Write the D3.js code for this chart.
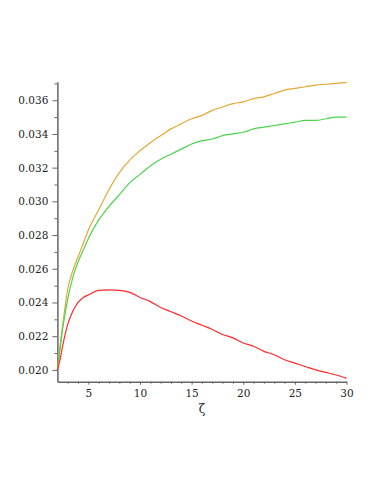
<!DOCTYPE html>
<html>
<head>
  <meta charset="utf-8">
  <script src="https://d3js.org/d3.v7.min.js"></script>
  <style>
    body { margin: 0; background: #fff; }
    .axis text { font-family: "DejaVu Serif", serif; font-size: 10.5px; fill: #222; }
    .axis path, .axis line { stroke: #666; }
  </style>
</head>
<body>
  <svg id="chart" width="382" height="494"></svg>
  <script>
    const zeta = [2, 2.25, 2.5, 3, 3.5, 4, 4.5, 5, 6, 7, 8, 9, 10, 11, 12, 13, 14, 15, 16, 17, 18, 19, 20, 21, 22, 23, 24, 25, 26, 27, 28, 29, 30];
    const orangeVals = [0.0200, 0.0214, 0.0226, 0.0248, 0.0259, 0.0267, 0.0275, 0.0283, 0.0295, 0.0307, 0.0317, 0.03245, 0.0330, 0.03348, 0.0339, 0.0343, 0.0346, 0.0349, 0.0351, 0.0354, 0.0356, 0.0358, 0.0359, 0.0361, 0.0362, 0.0364, 0.0366, 0.0367, 0.0368, 0.0369, 0.03695, 0.0370, 0.03705];
    const greenVals = [0.0200, 0.0212, 0.0224, 0.0242, 0.0255, 0.0264, 0.0271, 0.0278, 0.0289, 0.0297, 0.0304, 0.0311, 0.0316, 0.0321, 0.0325, 0.0328, 0.0331, 0.0334, 0.0336, 0.0337, 0.0339, 0.0340, 0.0341, 0.0343, 0.0344, 0.0345, 0.0346, 0.0347, 0.0348, 0.0348, 0.0349, 0.0350, 0.0350];
    const redVals = [0.0200, 0.0206, 0.0214, 0.0227, 0.0235, 0.0240, 0.0243, 0.02445, 0.02472, 0.02475, 0.02472, 0.0246, 0.0243, 0.02405, 0.0237, 0.02345, 0.0232, 0.0229, 0.02265, 0.0224, 0.0221, 0.0219, 0.0216, 0.0214, 0.0211, 0.0209, 0.0206, 0.0204, 0.0202, 0.0200, 0.01985, 0.0197, 0.0195];
    const xTicks = [5, 10, 15, 20, 25, 30];
    const yTicks = [0.020, 0.022, 0.024, 0.026, 0.028, 0.030, 0.032, 0.034, 0.036];

    const svg = d3.select("svg#chart");
    const plotLeft = 57.4, plotRight = 346.5, plotTop = 81.7, plotBottom = 381.7;

    const x = d3.scaleLinear().domain([2, 30]).range([plotLeft, plotRight]);
    const y = d3.scaleLinear().domain([0.0193, 0.0371]).range([plotBottom, plotTop]);

    // minor ticks first
    const xMinor = d3.range(3, 31).filter(d => d % 5 != 0);
    const yMinor = d3.range(21, 38, 2).map(d => d / 1000);

    svg.append("g").attr("class", "axis")
      .attr("transform", "translate(0," + plotBottom + ")")
      .call(d3.axisBottom(x).tickValues(xMinor).tickSize(2).tickFormat(""))
      .call(g => g.select(".domain").remove());

    svg.append("g").attr("class", "axis")
      .attr("transform", "translate(" + plotLeft + ",0)")
      .call(d3.axisLeft(y).tickValues(yMinor).tickSize(3).tickFormat(""))
      .call(g => g.select(".domain").remove());

    svg.append("g").attr("class", "axis")
      .attr("transform", "translate(0," + plotBottom + ")")
      .call(d3.axisBottom(x).tickValues(xTicks).tickSize(3).tickSizeOuter(0).tickPadding(5))
      .call(g => g.select(".domain").attr("stroke-width", 1.5));

    svg.append("g").attr("class", "axis")
      .attr("transform", "translate(" + plotLeft + ",0)")
      .call(d3.axisLeft(y).tickValues(yTicks).tickSize(5).tickSizeOuter(0).tickPadding(4).tickFormat(d3.format(".3f")))
      .call(g => g.select(".domain").attr("stroke-width", 1.5));

    svg.append("text")
      .attr("x", (plotLeft + plotRight) / 2)
      .attr("y", 413)
      .attr("text-anchor", "middle")
      .style("font-family", "DejaVu Serif, serif")
      .style("font-size", "12px")
      .style("fill", "#222")
      .text("ζ");

    const line = d3.line().curve(d3.curveMonotoneX).x(d => x(d[0])).y(d => y(d[1]));

    const series = [
      { vals: orangeVals, color: "#E4A834" },
      { vals: greenVals, color: "#4CD44C" },
      { vals: redVals, color: "#FF2A2A" }
    ];

    svg.selectAll("path.series").data(series)
      .join("path")
      .attr("class", "series")
      .attr("fill", "none")
      .attr("stroke", d => d.color)
      .attr("stroke-width", 1.2)
      .attr("d", d => line(zeta.map((z, i) => [z, d.vals[i]])));
  </script>
</body>
</html>
